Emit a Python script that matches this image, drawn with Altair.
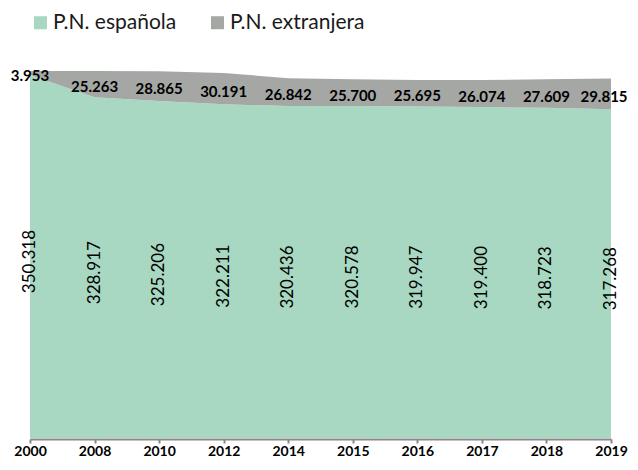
import altair as alt
import pandas as pd

years = ["2000", "2008", "2010", "2012", "2014", "2015", "2016", "2017", "2018", "2019"]
espanola = [350318, 328917, 325206, 322211, 320436, 320578, 319947, 319400, 318723, 317268]
extranjera = [3953, 25263, 28865, 30191, 26842, 25700, 25695, 26074, 27609, 29815]
series = ["P.N. española", "P.N. extranjera"]
colors = ["#A8D8C2", "#A5A7A5"]

rows = []
for i, y in enumerate(years):
    rows.append({"year": y, "serie": series[0], "value": espanola[i], "ord": 0})
    rows.append({"year": y, "serie": series[1], "value": extranjera[i], "ord": 1})
df = pd.DataFrame(rows)

lab = pd.DataFrame({"year": years, "esp": espanola, "ext": extranjera})

ymax = max(a + b for a, b in zip(espanola, extranjera))
yscale = alt.Scale(domain=[0, ymax], nice=False, zero=True)
xscale = alt.Scale(type="point", padding=0)
xenc = alt.X("year:O", scale=xscale,
             axis=alt.Axis(title=None, labelAngle=0, labelFont="Lato", labelFontSize=14,
                           labelFontWeight="bold", labelColor="#000000",
                           domainColor="#888888", domainWidth=2, tickColor="#888888",
                           tickWidth=2, tickSize=4, labelPadding=1, offset=1, grid=False))

area = alt.Chart(df).mark_area(opacity=1).encode(
    x=xenc,
    y=alt.Y("value:Q", stack="zero", scale=yscale, axis=None),
    color=alt.Color("serie:N", scale=alt.Scale(domain=series, range=colors),
                    legend=alt.Legend(title=None, orient="none", legendX=0, legendY=-59,
                                      direction="horizontal", symbolType="square",
                                      symbolSize=170, symbolStrokeWidth=0, labelFont="Lato",
                                      labelFontSize=21, labelColor="#1a1a1a",
                                      columnPadding=30, symbolOffset=0, labelOffset=2)),
    order=alt.Order("ord:Q"),
)

esp_text = alt.Chart(lab).transform_calculate(
    ypos="datum.esp / 2",
    txt="replace(format(datum.esp, ','), ',', '.')",
).mark_text(angle=270, font="Lato", fontSize=17, color="#000000",
            align="center", baseline="middle", dx=-5).encode(
    x=alt.X("year:O", scale=xscale),
    y=alt.Y("ypos:Q", scale=yscale),
    text="txt:N",
)

last_year = years[-1]
ext_base = alt.Chart(lab).transform_calculate(
    ypos="datum.esp + datum.ext / 2",
    txt="replace(format(datum.ext, ','), ',', '.')",
)
ext_enc = dict(
    x=alt.X("year:O", scale=xscale),
    y=alt.Y("ypos:Q", scale=yscale),
    text="txt:N",
)
ext_text = ext_base.transform_filter(alt.datum.year != last_year).mark_text(
    font="Lato", fontSize=15, fontWeight="bold", color="#000000",
    align="center", baseline="middle", dy=3).encode(**ext_enc)
ext_last = ext_base.transform_filter(alt.datum.year == last_year).mark_text(
    font="Lato", fontSize=15, fontWeight="bold", color="#000000",
    align="center", baseline="middle", dy=3, dx=-7).encode(**ext_enc)

chart = alt.layer(area, esp_text, ext_text, ext_last).properties(
    width=581, height=367,
    autosize=alt.AutoSizeParams(type="none"),
    padding={"left": 22, "top": 63, "right": 19, "bottom": 24},
).configure_view(stroke=None)

chart.save("out.html", embed_options={"renderer": "svg", "actions": False})
